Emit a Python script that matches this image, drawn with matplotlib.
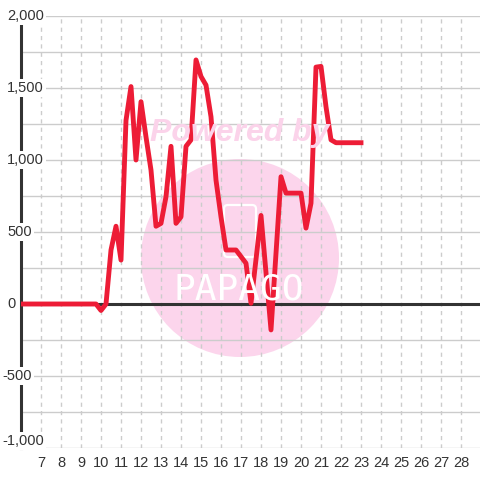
import matplotlib
matplotlib.use("Agg")
import matplotlib.pyplot as plt
from matplotlib.patches import Circle, FancyBboxPatch
from matplotlib.transforms import blended_transform_factory

# series
days = [6, 9.75, 10, 10.25, 10.5, 10.75, 11, 11.25, 11.5, 11.75, 12, 12.25,
        12.5, 12.75, 13, 13.25, 13.5, 13.75, 14, 14.25, 14.5, 14.75, 15, 15.25,
        15.5, 15.75, 16, 16.25, 16.75, 17.25, 17.5, 18, 18.5, 19, 19.25, 20,
        20.25, 20.5, 20.75, 21, 21.25, 21.5, 21.75, 23]
values = [0, 0, -45, 0, 375, 540, 305, 1275, 1510, 1000, 1405, 1160,
          930, 540, 560, 745, 1095, 560, 605, 1095, 1140, 1695, 1580, 1520,
          1300, 860, 605, 375, 375, 283, 5, 615, -180, 884, 770, 770,
          527, 700, 1645, 1650, 1370, 1140, 1120, 1120]

x_ticks = list(range(7, 29))
y_labels = [2000, 1500, 1000, 500, 0, -500, -1000]
y_grid = list(range(-1000, 2001, 250))

plt.rcParams['font.family'] = ['Liberation Sans', 'DejaVu Sans']
text_col = '#333333'
grid_col = '#cccccc'

fig = plt.figure(figsize=(4.8, 4.8), dpi=100)
fig.patch.set_facecolor('white')
ax = fig.add_axes([21 / 480, 32 / 480, 459 / 480, 432 / 480])
ax.set_xlim(6, 28.95)
ax.set_ylim(-1000, 2000)
ax.set_axisbelow(True)

# watermark
ax.add_patch(Circle((240 / 480, 1 - 258 / 480), 99 / 480, transform=fig.transFigure,
                    facecolor='#fcd5ec', edgecolor='none', zorder=0, clip_on=False))
ax.add_patch(FancyBboxPatch((224 / 480, 1 - 257 / 480), 32 / 480, 52 / 480,
                            boxstyle='round,pad=0,rounding_size=0.008',
                            transform=fig.transFigure, facecolor='none',
                            edgecolor='white', lw=1.6, zorder=0.1, clip_on=False))
fig.text(239 / 480, 1 - 290 / 480, 'PAPAGO', family='DejaVu Sans Mono', weight='light',
         fontsize=26, color='white', ha='center', va='center', zorder=0.1)
fig.text(240 / 480, 1 - 133 / 480, 'Powered by', fontsize=23, weight='bold',
         style='italic', color='#fbd3ea', ha='center', va='center', zorder=0.1)

ax.set_xticks(x_ticks)
ax.set_yticks(y_grid)
ax.set_yticklabels([])
ax.tick_params(axis='both', length=0)
ax.tick_params(axis='x', pad=6, labelsize=10.5, labelcolor=text_col)
ax.grid(axis='y', color=grid_col, lw=1)
ax.grid(axis='x', color=grid_col, lw=1, ls=(0, (3, 3)))

for s in ['top', 'right', 'bottom']:
    ax.spines[s].set_visible(False)
ax.spines['left'].set_color(text_col)
ax.spines['left'].set_linewidth(2.2)

ax.axhline(0, color=text_col, lw=2.2, zorder=2)
ax.plot(days, values, color='#ed1c36', lw=3.5, solid_joinstyle='round', zorder=3)

trans = blended_transform_factory(fig.transFigure, ax.transData)
for v in y_labels:
    x0 = 2 / 480 if v < 0 else 7 / 480
    va = 'bottom' if v == -1000 else 'center'
    ax.text(x0, v, f'{v:,}', transform=trans, ha='left', va=va, fontsize=10.5,
            color=text_col, zorder=4, clip_on=False,
            bbox=dict(facecolor='white', edgecolor='none', pad=1.5))

fig.savefig('out.png', dpi=100)
